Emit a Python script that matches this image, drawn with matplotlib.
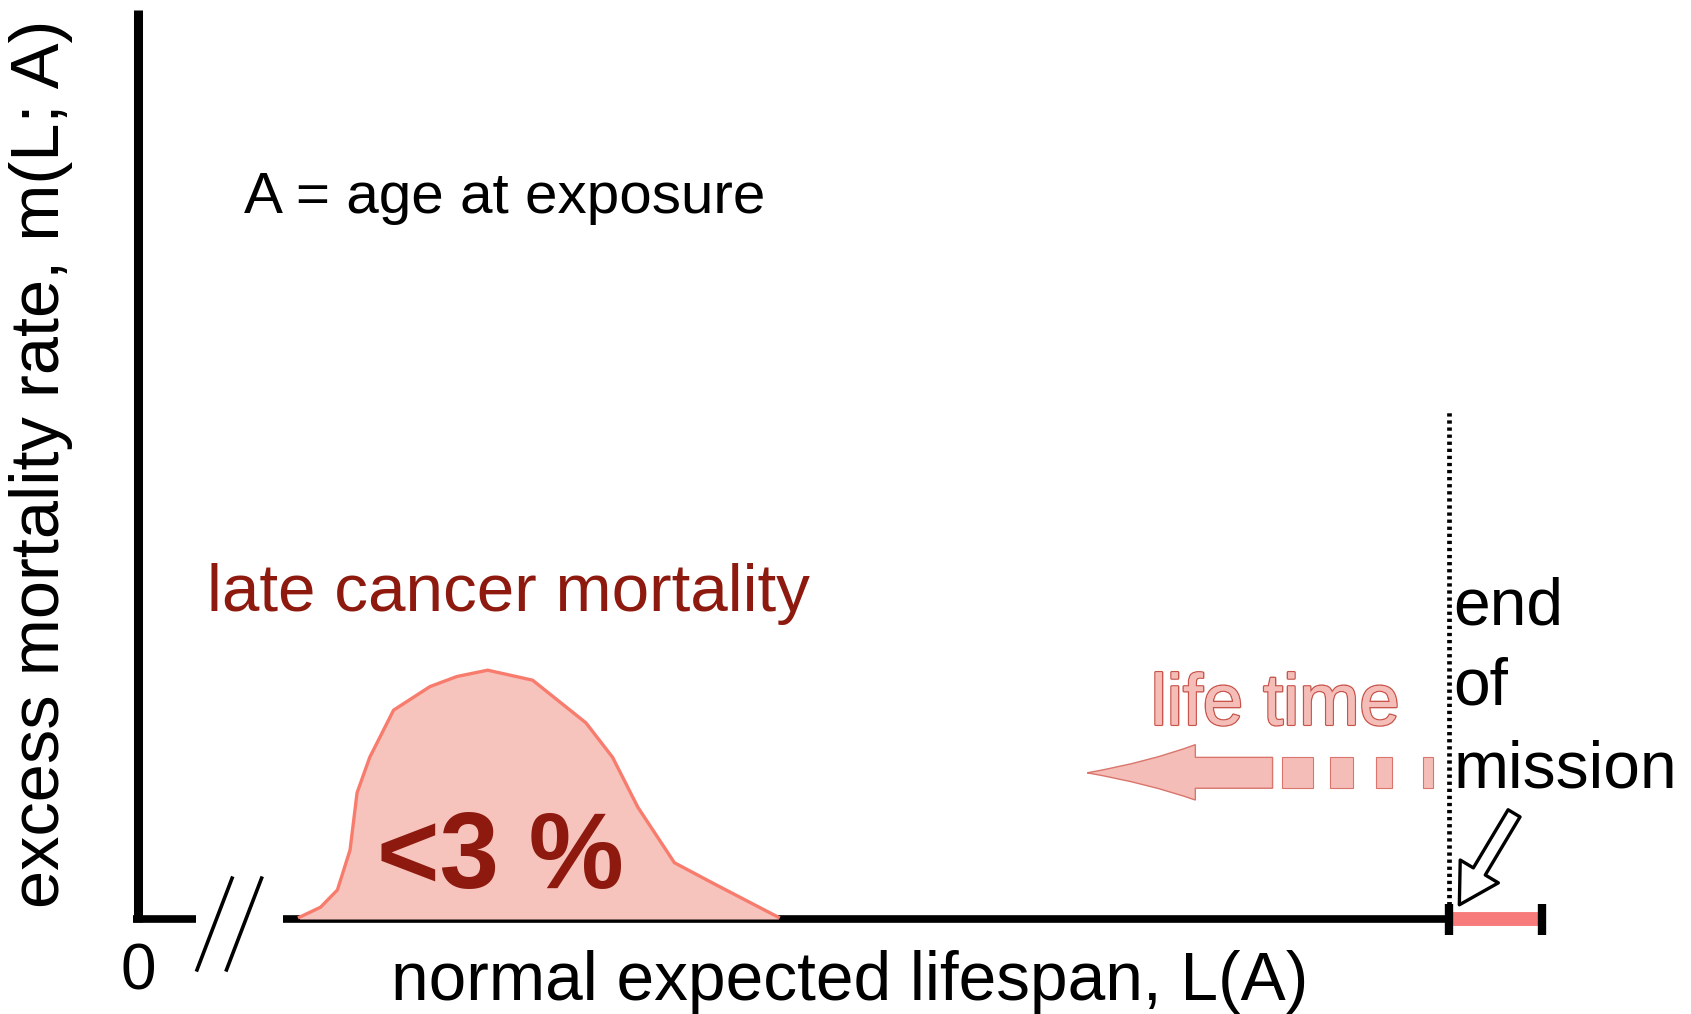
import matplotlib
matplotlib.use("Agg")
import matplotlib.pyplot as plt
from matplotlib.patches import PathPatch, Rectangle, FancyArrowPatch
from matplotlib.path import Path
import matplotlib.patheffects as pe

plt.rcParams["font.family"] = ["Liberation Sans", "DejaVu Sans"]

# excess mortality curve (x: position along lifespan axis, 0..100; y: rate, 0..100)
curve_x = [11.5, 13.0, 14.2, 15.1, 15.6, 16.5, 18.2, 20.8, 22.7, 24.9, 28.1, 31.9, 33.8, 35.6, 38.2, 41.0, 45.6]
curve_y = [0.2, 1.3, 3.2, 7.6, 13.9, 17.8, 23.0, 25.6, 26.7, 27.4, 26.3, 21.6, 17.8, 12.3, 6.2, 3.9, 0.2]

mission_end = 93.4      # end of mission on the lifespan axis
axis_end = 100.0
break_lo, break_hi = 4.1, 10.3

DARK_RED = "#8e1a0f"
SALMON = "#f87c6e"
PINK = "#f7c3bd"

fig = plt.figure(figsize=(16.91, 10.14), dpi=100)
ax = fig.add_axes([0, 0, 1, 1])
ax.set_xlim(-9.83, 110.6)
ax.set_ylim(-10.46, 101.2)
ax.axis("off")

# axes with a break on the x axis
ax.plot([0, 0], [-0.35, 100.1], color="black", lw=6.5, solid_capstyle="butt")
ax.plot([-0.35, break_lo], [0, 0], color="black", lw=5.5, solid_capstyle="butt")
ax.plot([break_hi, axis_end], [0, 0], color="black", lw=5.5, solid_capstyle="butt")
for x0 in (4.2, 6.3):
    ax.plot([x0, x0 + 2.5], [-5.6, 4.5], color="black", lw=2.6)

# late cancer mortality hump
ax.fill_between(curve_x, curve_y, 0, color=PINK, lw=0, zorder=2)
ax.plot(curve_x, curve_y, color=SALMON, lw=2.4, zorder=3)

# mission interval on the axis
ax.plot([mission_end, axis_end - 0.3], [0, 0], color="#f77b7b", lw=10, solid_capstyle="butt", zorder=4)
for xt in (mission_end, axis_end):
    ax.plot([xt, xt], [-1.8, 1.6], color="black", lw=6, solid_capstyle="butt", zorder=5)
ax.plot([mission_end, mission_end], [0, 56], color="black", lw=3.4, ls=(0, (0.7, 0.8)), zorder=1)

# "life time" arrow pointing back towards exposure
tip, head_base, shaft_end = 67.6, 75.3, 80.8
verts = [(tip, 16.1), (72.0, 17.3), (head_base, 19.2), (head_base, 17.8), (shaft_end, 17.8),
         (shaft_end, 14.4), (head_base, 14.4), (head_base, 13.1), (72.0, 14.9), (tip, 16.1)]
codes = [Path.MOVETO, Path.CURVE3, Path.CURVE3, Path.LINETO, Path.LINETO,
         Path.LINETO, Path.LINETO, Path.LINETO, Path.CURVE3, Path.CURVE3]
ax.add_patch(PathPatch(Path(verts, codes), fc="#f5bdb7", ec="#d9756c", lw=1.0, zorder=3))
for d0, d1 in [(81.5, 83.7), (84.9, 86.5), (88.2, 89.3), (91.5, 92.2)]:
    ax.add_patch(Rectangle((d0, 14.4), d1 - d0, 3.4, fc="#f5bdb7", ec="#d9756c", lw=0.8, zorder=3))

# hollow arrow to the end of mission
ax.add_patch(FancyArrowPatch((98.1, 11.9), (94.0, 1.3),
                             arrowstyle="simple,head_length=28,head_width=32,tail_width=10",
                             mutation_scale=1, fc="white", ec="black", lw=2.4, zorder=6))

# texts
ax.text(7.55, 77.7, "A = age at exposure", fontsize=42, va="baseline", ha="left")
ax.text(4.9, 33.9, "late cancer mortality", fontsize=48.5, color=DARK_RED, va="baseline", ha="left")
ax.text(17.0, 3.4, "<3 %", fontsize=77, fontweight="bold", color=DARK_RED, va="baseline", ha="left", zorder=4)
ax.text(81.0, 21.4, "life time", fontsize=52, color="#f5bdb7", va="baseline", ha="center",
        path_effects=[pe.withStroke(linewidth=2, foreground="#c8554c"), pe.Normal()])
for line, yb in zip(["end", "of", "mission"], [32.4, 23.6, 14.5]):
    ax.text(93.7, yb, line, fontsize=47.5, va="baseline", ha="left")
ax.text(0, -7.8, "0", fontsize=46, va="baseline", ha="center")
ax.text(50.7, -8.9, "normal expected lifespan, L(A)", fontsize=48.7, va="baseline", ha="center")
ax.text(-6.9, 50.1, "excess mortality rate, m(L; A)", fontsize=49.4, rotation=90, va="center", ha="center")

fig.savefig("out.png", dpi=100)
